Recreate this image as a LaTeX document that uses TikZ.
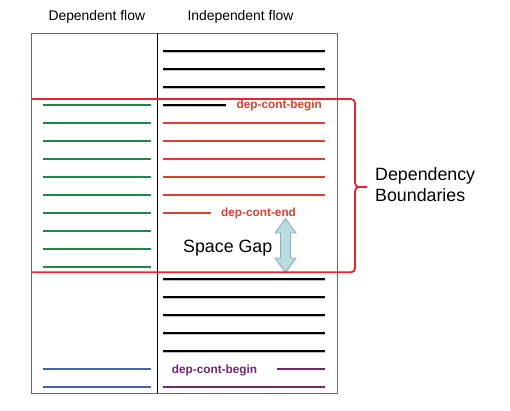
\documentclass[tikz,border=0pt]{standalone}
\usepackage{fontspec}
\setmainfont{Liberation Sans}
\definecolor{lred}{HTML}{D9412F}
\definecolor{bred}{HTML}{E8262C}
\definecolor{dgreen}{HTML}{1F8749}
\definecolor{dblue}{HTML}{4264B0}
\definecolor{dpurple}{HTML}{70266E}
\definecolor{arfill}{HTML}{B8DDE1}
\definecolor{ardraw}{HTML}{8BB0B5}
\definecolor{boxgrey}{HTML}{6A6A6A}
\tikzset{
  shadowln/.style={draw=black!25, line width=2.2pt},
  blkln/.style={draw=black, line width=2.4pt},
  redln/.style={draw=lred, line width=2pt},
  grnln/.style={draw=dgreen, line width=2pt},
  bluln/.style={draw=dblue, line width=2pt},
  purln/.style={draw=dpurple, line width=2pt},
  hdr/.style={anchor=base west, inner sep=0pt, font=\fontsize{13.9}{16}\selectfont},
  big/.style={anchor=base west, inner sep=0pt, font=\fontsize{17.8}{20}\selectfont},
  lbl/.style={anchor=base west, inner sep=0pt, font=\bfseries\fontsize{11.8}{14}\selectfont},
}
\begin{document}
\begin{tikzpicture}[x=1pt,y=-1pt]
\useasboundingbox (0,0) rectangle (510,410);
% headers
\node[hdr] (hdep) at (48.3,20.7) {Dependent flow};
\node[hdr] (hind) at (187.3,20.7) {Independent flow};
% box
\draw[boxgrey, line width=1pt] (31.5,33) rectangle (337,393);
\draw[black, line width=1pt] (157,33) -- (157,393);
% shadows
\foreach \y in {51,69,87,279,297,315,333,351} {\draw[shadowln] (163,\y+1) -- (325,\y+1);}
\draw[shadowln] (163,106) -- (226,106);
% black lines (top)
\foreach \y in {51,69,87} {\draw[blkln] (163,\y) -- (325,\y);}
\draw[blkln] (163,105) -- (226,105);
\node[lbl, text=lred] (dcb) at (236.5,108) {dep-cont-begin};
% red lines
\foreach \y in {123,141,158.5,176.5,194.5} {\draw[redln] (163,\y) -- (325,\y);}
\draw[redln] (163,212.5) -- (210.5,212.5);
\node[lbl, text=lred] (dce) at (221,216.7) {dep-cont-end};
% green lines
\foreach \y in {105,123,141,158.5,176.5,194.5,212.5,230.5,248.5,266.5} {\draw[grnln] (43,\y) -- (151,\y);}
% black lines (bottom)
\foreach \y in {279,297,315,333,351} {\draw[blkln] (163,\y) -- (325,\y);}
% bottom colored lines
\foreach \y in {369,387} {\draw[bluln] (43,\y) -- (151,\y);}
\draw[purln] (277,369) -- (325,369);
\draw[purln] (163,387) -- (325,387);
\node[lbl, text=dpurple] (pcb) at (171.7,373.3) {dep-cont-begin};
% space gap
\node[big] (gap) at (183,252.7) {Space Gap};
\draw[ardraw, fill=arfill, line width=0.9pt]
  (285.5,218.5) -- (296,233) -- (290.5,233) -- (290.5,258) -- (296,258) --
  (285.5,272.5) -- (275,258) -- (280.5,258) -- (280.5,233) -- (275,233) -- cycle;
% boundary brace
\draw[bred, line width=1.8pt, rounded corners=4pt]
  (31.5,99) -- (355,99) -- (355,187) -- (367,187);
\draw[bred, line width=1.8pt, rounded corners=4pt]
  (367,187) -- (355,187) -- (355,272.3) -- (31.5,272.3);
\node[big] (db1) at (375,180.7) {Dependency};
\node[big] (db2) at (375,201.5) {Boundaries};
\end{tikzpicture}
\end{document}
